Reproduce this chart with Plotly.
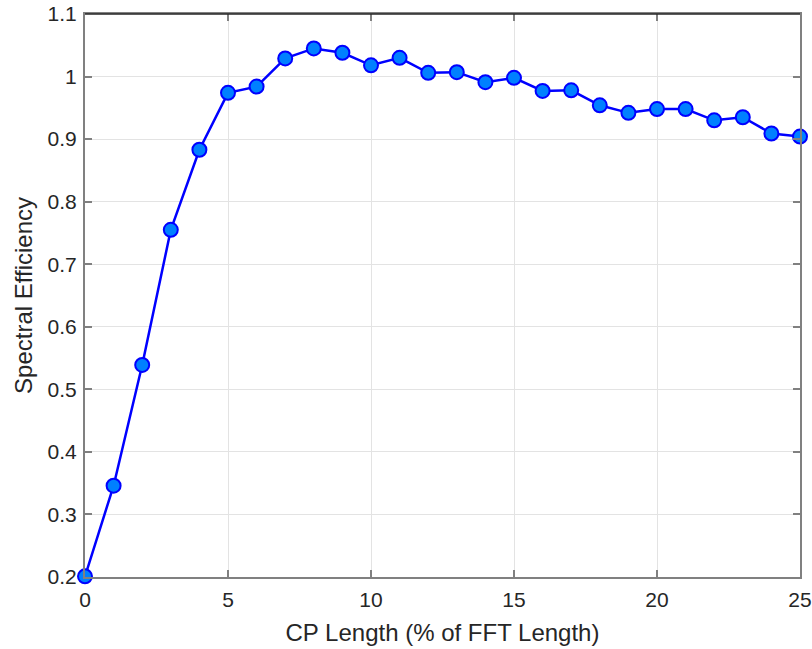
import plotly.graph_objects as go

# CP length as a percentage of the FFT length
cp_length = list(range(0, 26))
# Measured spectral efficiency for each CP length
spectral_eff = [0.201, 0.346, 0.539, 0.755, 0.883, 0.974, 0.984, 1.029, 1.045, 1.038,
                1.018, 1.030, 1.006, 1.007, 0.991, 0.998, 0.977, 0.978, 0.954, 0.942,
                0.948, 0.948, 0.930, 0.935, 0.909, 0.904]

x_ticks = [0, 5, 10, 15, 20, 25]
y_ticks = [0.2, 0.3, 0.4, 0.5, 0.6, 0.7, 0.8, 0.9, 1.0, 1.1]
y_tick_text = ["0.2", "0.3", "0.4", "0.5", "0.6", "0.7", "0.8", "0.9", "1", "1.1"]

FONT = "Liberation Sans, Arial, sans-serif"
TEXT = "#262626"
AXIS = "#808080"

fig = go.Figure()
fig.add_trace(go.Scatter(
    x=cp_length, y=spectral_eff, mode="lines+markers",
    line=dict(color="#0000ff", width=2.5),
    marker=dict(size=14, color="#0080ff", line=dict(color="#0000ff", width=2)),
    cliponaxis=False, showlegend=False,
))

axis_common = dict(
    showline=True, linecolor=AXIS, linewidth=2, mirror="ticks",
    ticks="inside", ticklen=7, tickcolor=AXIS, tickwidth=1.5,
    showgrid=True, gridcolor="#e3e3e3", gridwidth=1,
    zeroline=False, automargin=False,
    tickfont=dict(family=FONT, size=21, color=TEXT),
)

fig.update_layout(
    width=812, height=649,
    margin=dict(l=85, r=12, t=14, b=72),
    paper_bgcolor="white", plot_bgcolor="white",
    font=dict(family=FONT, color=TEXT),
    xaxis=dict(range=[0, 25], tickvals=x_ticks, ticklabelstandoff=3,
               title=dict(text="CP Length (% of FFT Length)", font=dict(size=24), standoff=14),
               **axis_common),
    yaxis=dict(range=[0.2, 1.1], tickvals=y_ticks, ticktext=y_tick_text, ticklabelstandoff=2,
               title=dict(text="Spectral Efficiency", font=dict(size=24), standoff=8),
               **axis_common),
    # darker top edge of the axes box
    shapes=[dict(type="line", xref="paper", yref="paper", x0=0, x1=1, y0=1, y1=1,
                 line=dict(color="#262626", width=1.5), layer="above")],
)

fig.write_html("out.html")
